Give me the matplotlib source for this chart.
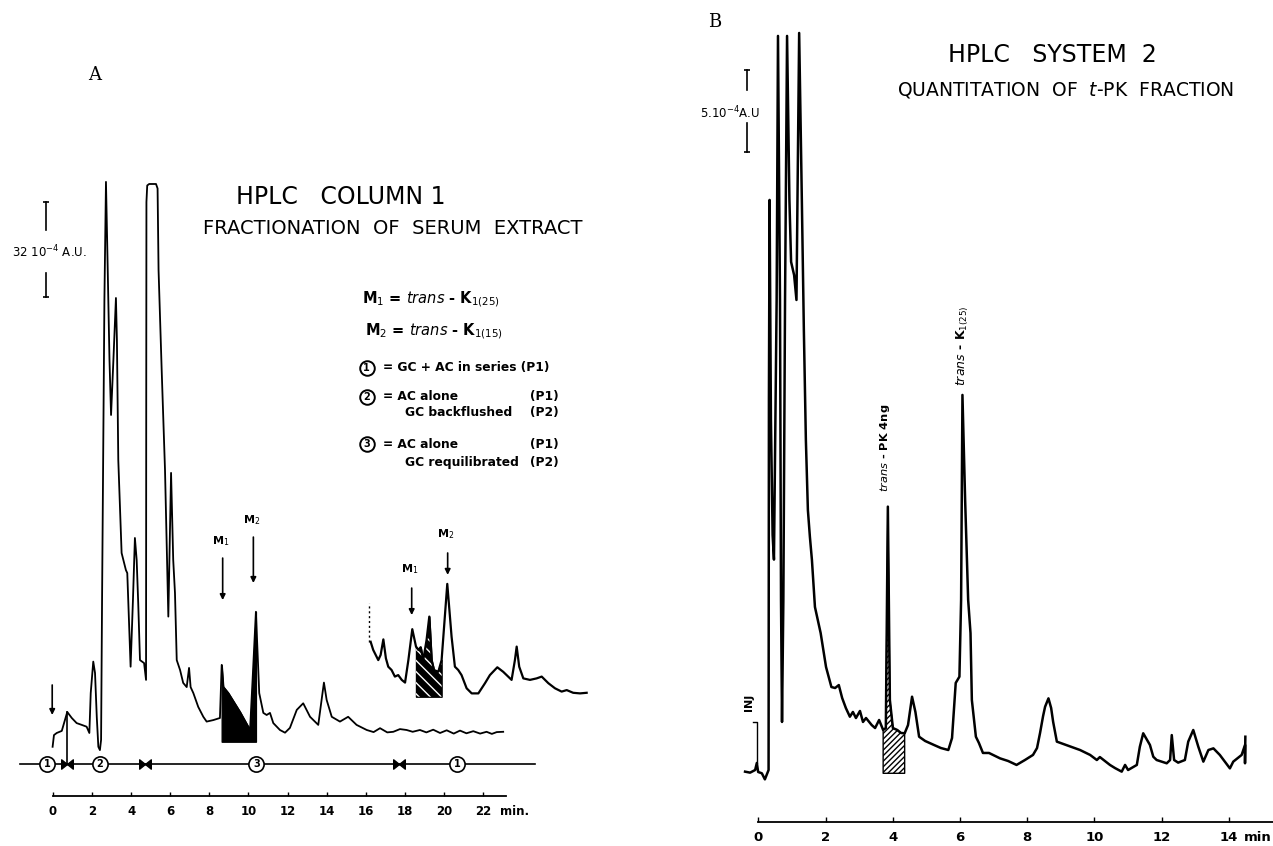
import numpy as np
import matplotlib.pyplot as plt
from matplotlib.path import Path

plt.rcParams['font.family'] = ['DejaVu Sans']
plt.rcParams['hatch.linewidth'] = 1.0

# ---------------- panel A : HPLC column 1 (time in min, signal in 1e-4 A.U.)
a_main_t = [-0.02, 0.05, 0.19, 0.45, 0.73, 0.96, 1.21, 1.47, 1.72, 1.86, 1.93, 2.06, 2.15,
            2.24, 2.32, 2.40, 2.46, 2.51, 2.63, 2.71, 2.79, 2.89, 2.97, 3.09, 3.22, 3.27,
            3.34, 3.51, 3.73, 3.80, 3.97, 4.09, 4.19, 4.28, 4.36, 4.45, 4.66, 4.76, 4.77,
            4.78, 4.82, 4.92, 5.27, 5.35, 5.40, 5.56, 5.73, 5.90, 6.04, 6.15, 6.24, 6.33,
            6.50, 6.66, 6.84, 6.96, 7.04, 7.18, 7.43, 7.69, 7.86, 8.20, 8.54, 8.63, 8.71,
            8.97, 9.57, 10.08, 10.21, 10.38, 10.55, 10.76, 10.93, 11.10, 11.27, 11.61,
            11.87, 12.12, 12.47, 12.80, 13.15, 13.57, 13.74, 13.86, 14.00, 14.26, 14.68,
            15.10, 15.53, 16.05, 16.40, 16.73, 17.10, 17.41, 17.75, 18.09, 18.40, 18.77,
            19.10, 19.45, 19.80, 20.14, 20.50, 20.82, 21.15, 21.50, 21.85, 22.18, 22.45,
            22.70, 23.03]
a_main_s = [16.4, 20.3, 21.0, 21.7, 28.0, 26.0, 24.3, 23.7, 23.1, 21.0, 34.3, 44.8, 41.0,
            26.3, 16.4, 15.3, 18.7, 65.3, 165.3, 204.7, 178.7, 145.3, 127.0, 145.3, 166.0,
            152.0, 112.0, 81.0, 75.3, 74.3, 43.1, 65.3, 86.0, 78.7, 64.3, 45.3, 44.3, 38.7,
            132.0, 198.0, 203.5, 204.0, 204.0, 202.5, 175.3, 142.0, 108.7, 59.8, 107.7,
            78.7, 67.7, 45.3, 42.0, 37.7, 36.3, 42.7, 36.3, 34.3, 29.7, 26.4, 24.8, 25.3,
            26.0, 43.7, 36.4, 34.3, 28.0, 22.0, 38.7, 61.4, 34.3, 27.7, 27.0, 27.7, 24.3,
            22.0, 21.1, 22.7, 28.7, 30.9, 26.4, 23.7, 32.0, 37.8, 32.0, 26.4, 24.8, 26.4,
            23.7, 22.0, 21.3, 22.6, 21.2, 21.4, 22.3, 22.0, 21.4, 22.0, 21.2, 22.1, 21.0,
            21.9, 20.8, 21.8, 20.9, 21.6, 20.8, 21.4, 20.7, 21.3, 21.4]

a_inset_t = [16.25, 16.38, 16.64, 16.76, 16.90, 17.03, 17.15, 17.32, 17.49, 17.66, 17.84,
             18.01, 18.18, 18.38, 18.57, 18.69, 18.81, 18.94, 19.11, 19.25, 19.37, 19.49,
             19.71, 19.88, 20.17, 20.39, 20.56, 20.73, 20.90, 21.16, 21.42, 21.76, 22.10,
             22.35, 22.73, 23.03, 23.46, 23.63, 23.72, 23.85, 24.06, 24.40, 24.74, 25.00,
             25.34, 25.68, 26.02, 26.28, 26.61, 26.96, 27.30]
a_inset_s = [51.4, 48.7, 45.3, 47.0, 52.2, 45.9, 43.1, 42.0, 39.8, 40.3, 38.7, 37.8, 45.3,
             55.6, 49.8, 48.7, 49.6, 45.3, 52.0, 59.8, 45.3, 42.0, 41.4, 45.3, 70.7, 53.1,
             43.1, 42.0, 40.3, 35.9, 34.2, 34.2, 37.6, 40.3, 42.9, 41.4, 38.7, 45.3, 49.8,
             43.1, 39.2, 38.7, 39.2, 39.8, 37.6, 35.9, 34.8, 35.3, 34.4, 34.2, 34.4]

a_ticks = [0, 2, 4, 6, 8, 10, 12, 14, 16, 18, 20, 22]
a_shade_main = (8.63, 10.38, 18.1)
a_shade_inset = (18.48, 19.96, 33.1)
a_mode_level = 10.7
a_mode_span = (-1.69, 24.65)
a_mode_circles = [(-0.31, '1'), (2.41, '2'), (10.41, '3'), (20.66, '1')]
a_mode_switch = [0.71, 4.71, 17.68]

# ---------------- panel B : HPLC system 2
b_t = [-0.40, -0.25, -0.10, -0.05, -0.01, 0.10, 0.19, 0.30, 0.31, 0.33, 0.37, 0.42, 0.46,
       0.54, 0.58, 0.64, 0.67, 0.70, 0.74, 0.79, 0.85, 0.92, 0.97, 1.06, 1.13, 1.21, 1.29,
       1.35, 1.41, 1.47, 1.53, 1.59, 1.68, 1.85, 2.01, 2.17, 2.28, 2.39, 2.49, 2.60, 2.72,
       2.81, 2.90, 3.02, 3.11, 3.20, 3.37, 3.47, 3.59, 3.71, 3.79, 3.85, 3.91, 4.00, 4.13,
       4.24, 4.35, 4.45, 4.57, 4.67, 4.78, 4.96, 5.22, 5.43, 5.65, 5.76, 5.87, 5.98, 6.03,
       6.07, 6.15, 6.24, 6.31, 6.35, 6.47, 6.56, 6.68, 6.86, 6.98, 7.19, 7.43, 7.68, 7.93,
       8.17, 8.29, 8.38, 8.47, 8.53, 8.63, 8.71, 8.77, 8.88, 9.15, 9.57, 9.87, 10.07, 10.16,
       10.46, 10.61, 10.81, 10.91, 11.00, 11.26, 11.35, 11.45, 11.65, 11.75, 11.85, 12.15,
       12.25, 12.30, 12.37, 12.49, 12.69, 12.79, 12.94, 13.09, 13.24, 13.39, 13.54, 13.73,
       14.03, 14.13, 14.38, 14.48, 14.48, 14.49]
b_s = [3.07, 3.01, 3.17, 3.60, 3.05, 2.97, 2.60, 3.17, 25.73, 37.93, 24.51, 17.5, 16.0,
       31.83, 47.93, 31.83, 13.54, 6.10, 13.54, 31.83, 47.93, 37.93, 34.15, 33.35, 31.83,
       48.11, 37.93, 30.00, 23.29, 19.02, 17.38, 15.98, 13.11, 11.52, 9.45, 8.23, 8.17,
       8.35, 7.56, 6.95, 6.42, 6.71, 6.34, 6.77, 6.10, 6.34, 5.91, 5.73, 6.22, 5.61, 5.73,
       19.23, 7.44, 5.73, 5.61, 5.43, 5.41, 5.91, 7.64, 6.71, 5.20, 4.94, 4.70, 4.51, 4.39,
       5.12, 8.48, 8.86, 13.54, 26.04, 19.63, 13.54, 11.52, 7.44, 5.20, 4.82, 4.21, 4.21,
       4.09, 3.88, 3.72, 3.48, 3.78, 4.09, 4.51, 5.43, 6.46, 7.03, 7.54, 6.95, 6.10, 4.90,
       4.70, 4.39, 4.09, 3.78, 3.96, 3.48, 3.29, 3.07, 3.48, 3.17, 3.48, 4.59, 5.41, 4.70,
       3.98, 3.78, 3.58, 3.78, 5.30, 3.78, 3.62, 3.78, 4.90, 5.61, 4.59, 3.68, 4.39, 4.49,
       4.09, 3.27, 3.68, 4.09, 4.70, 3.58, 5.20]

b_ticks = [0, 2, 4, 6, 8, 10, 12, 14]
b_shade = (3.70, 4.36, 2.97)

fig = plt.figure(figsize=(12.73, 8.46), dpi=100)
axA = fig.add_axes([0, 0, 0.5, 1])
axB = fig.add_axes([0.5, 0, 0.5, 1])
axA.set_xlim(-2.711, 29.85)
axA.set_ylim(-16.67, 265.33)
axB.set_xlim(-3.631, 15.313)
axB.set_ylim(-1.463, 50.12)
for ax in (axA, axB):
    ax.axis('off')

bowtie = Path([(-1, -0.8), (0, 0), (-1, 0.8), (-1, -0.8), (1, -0.8), (0, 0), (1, 0.8), (1, -0.8)],
              [Path.MOVETO, Path.LINETO, Path.LINETO, Path.CLOSEPOLY,
               Path.MOVETO, Path.LINETO, Path.LINETO, Path.CLOSEPOLY])

# ---- panel A
ta, sa = np.array(a_main_t), np.array(a_main_s)
ti, si = np.array(a_inset_t), np.array(a_inset_s)

m = (ta >= a_shade_main[0]) & (ta <= a_shade_main[1])
axA.fill_between(ta[m], a_shade_main[2], sa[m], facecolor='black', edgecolor='black', lw=1)
m = (ti >= a_shade_inset[0]) & (ti <= a_shade_inset[1])
axA.fill_between(ti[m], a_shade_inset[2], si[m], facecolor='black', edgecolor='black', lw=1)
axA.fill_between(ti[m], a_shade_inset[2], si[m], facecolor='none', edgecolor='white',
                 hatch='\\\\\\', lw=0)

axA.plot(ta, sa, color='black', lw=1.3, solid_joinstyle='round')
axA.plot(ti, si, color='black', lw=1.6, solid_joinstyle='round')
axA.plot([16.18, 16.18], [51.3, 64.3], color='black', lw=1.0, ls=(0, (1.5, 2)))

# injection arrow and switch mark
arrow = dict(arrowstyle='-|>', color='black', lw=1.2, mutation_scale=8, shrinkA=0, shrinkB=0)
axA.annotate('', xy=(-0.04, 27.0), xytext=(-0.04, 37.0), arrowprops=arrow)
axA.plot([0.73, 0.73], [28.0, a_mode_level], color='black', lw=1.2)

# M1 / M2 arrows
for t, s0, s1, lab, sl in [(8.68, 79.3, 65.3, 'M$_1$', 82.7), (10.25, 86.3, 71.0, 'M$_2$', 89.7),
                           (18.35, 69.3, 60.3, 'M$_1$', 73.3), (20.19, 81.0, 73.7, 'M$_2$', 85.0)]:
    axA.annotate('', xy=(t, s1), xytext=(t, s0), arrowprops=arrow)
    axA.text(t - 0.1, sl, lab, ha='center', va='bottom', fontsize=8, fontweight='bold')

# mode line
axA.plot(a_mode_span, [a_mode_level] * 2, color='black', lw=1.2)
axA.scatter(a_mode_switch, [a_mode_level] * len(a_mode_switch), marker=bowtie, s=70,
            color='black', zorder=3)
for t, d in a_mode_circles:
    axA.scatter([t], [a_mode_level], s=120, facecolor='white', edgecolor='black', lw=1.2, zorder=3)
    axA.text(t, a_mode_level, d, ha='center', va='center', fontsize=7, fontweight='bold', zorder=4)

# time axis
axA.plot([a_ticks[0], 23.17], [0, 0], color='black', lw=1.3)
axA.vlines(a_ticks, 0, 1.3, color='black', lw=1.0)
for t in a_ticks:
    axA.text(t, -3.0, str(t), ha='center', va='top', fontsize=8.5, fontweight='bold')
axA.text(22.85, -3.0, 'min.', ha='left', va='top', fontsize=8.5, fontweight='bold')

# scale bar
axA.plot([-0.37, -0.37], [188.7, 198.1], color='black', lw=1.2)
axA.plot([-0.37, -0.37], [166.4, 174.3], color='black', lw=1.2)
axA.plot([-0.37], [198.1], marker='_', ms=5, color='black', mew=1.2)
axA.plot([-0.37], [166.4], marker='_', ms=5, color='black', mew=1.2)
axA.text(-0.2, 181.3, '32 10$^{-4}$ A.U.', ha='center', va='center', fontsize=8.5)

# titles
axA.text(2.15, 240.3, 'A', ha='center', va='center', fontsize=13, family='DejaVu Serif')
axA.text(14.73, 199.7, 'HPLC   COLUMN 1', ha='center', va='center', fontsize=17)
axA.text(17.39, 189.3, 'FRACTIONATION  OF  SERUM  EXTRACT', ha='center', va='center',
         fontsize=14)

# legend block
lx, rx = 16.9, 25.85
axA.text(15.81, 165.7, r'M$_1$ = $\it{trans}$ - K$_{1(25)}$', ha='left', va='center',
         fontsize=10.5, fontweight='bold')
axA.text(15.95, 155.0, r'M$_2$ = $\it{trans}$ - K$_{1(15)}$', ha='left', va='center',
         fontsize=10.5, fontweight='bold')
for s, d in [(142.7, '1'), (133.0, '2'), (117.3, '3')]:
    axA.scatter([16.05], [s], s=110, facecolor='white', edgecolor='black', lw=1.4)
    axA.text(16.05, s, d, ha='center', va='center', fontsize=7, fontweight='bold')
fs = 8.8
axA.text(lx, 142.7, '= GC + AC in series (P1)', ha='left', va='center', fontsize=fs,
         fontweight='bold')
axA.text(lx, 133.0, '= AC alone', ha='left', va='center', fontsize=fs, fontweight='bold')
axA.text(rx, 133.0, '(P1)', ha='right', va='center', fontsize=fs, fontweight='bold')
axA.text(18.0, 127.7, 'GC backflushed', ha='left', va='center', fontsize=fs, fontweight='bold')
axA.text(rx, 127.7, '(P2)', ha='right', va='center', fontsize=fs, fontweight='bold')
axA.text(lx, 117.3, '= AC alone', ha='left', va='center', fontsize=fs, fontweight='bold')
axA.text(rx, 117.3, '(P1)', ha='right', va='center', fontsize=fs, fontweight='bold')
axA.text(18.0, 111.3, 'GC requilibrated', ha='left', va='center', fontsize=fs, fontweight='bold')
axA.text(rx, 111.3, '(P2)', ha='right', va='center', fontsize=fs, fontweight='bold')

# ---- panel B
tb, sb = np.array(b_t), np.array(b_s)
m = (tb >= b_shade[0]) & (tb <= b_shade[1])
axB.fill_between(tb[m], b_shade[2], sb[m], facecolor='white', edgecolor='black',
                 hatch='//////', lw=1.0)
axB.plot(tb, sb, color='black', lw=1.8, solid_joinstyle='round')

# injection mark
axB.plot([-0.17, -0.05, -0.05], [6.1, 6.1, 3.6], color='black', lw=1.0)
axB.text(-0.27, 7.3, 'INJ', rotation=90, ha='center', va='center', fontsize=8,
         fontweight='bold')

# peak labels
axB.text(3.76, 22.8, r'$\it{trans}$ - PK 4ng', rotation=90, ha='center', va='center',
         fontsize=8.2, fontweight='bold')
axB.text(6.07, 26.6, r'$\it{trans}$ - K$_{1(25)}$', rotation=90, ha='center', va='bottom',
         fontsize=9, fontweight='bold')

# time axis
axB.plot([b_ticks[0], 15.31], [0, 0], color='black', lw=1.3)
axB.vlines(b_ticks, 0, 0.3, color='black', lw=1.0)
for t in b_ticks:
    axB.text(t, -0.55, str(t), ha='center', va='top', fontsize=9.5, fontweight='bold')
axB.text(14.45, -0.55, 'min', ha='left', va='top', fontsize=9.5, fontweight='bold')

# scale bar
axB.plot([-0.33, -0.33], [44.63, 45.85], color='black', lw=1.2)
axB.plot([-0.33, -0.33], [40.85, 42.62], color='black', lw=1.2)
axB.plot([-0.33], [45.85], marker='_', ms=5, color='black', mew=1.2)
axB.plot([-0.33], [40.85], marker='_', ms=5, color='black', mew=1.2)
axB.text(-0.86, 43.23, '5.10$^{-4}$A.U', ha='center', va='center', fontsize=8.5)

# titles
axB.text(-1.29, 48.78, 'B', ha='center', va='center', fontsize=13, family='DejaVu Serif')
axB.text(8.74, 46.77, 'HPLC   SYSTEM  2', ha='center', va='center', fontsize=17)
axB.text(9.15, 44.63, r'QUANTITATION  OF  $\it{t}$-PK  FRACTION', ha='center', va='center',
         fontsize=13.5)

fig.savefig('out.png', dpi=100)
